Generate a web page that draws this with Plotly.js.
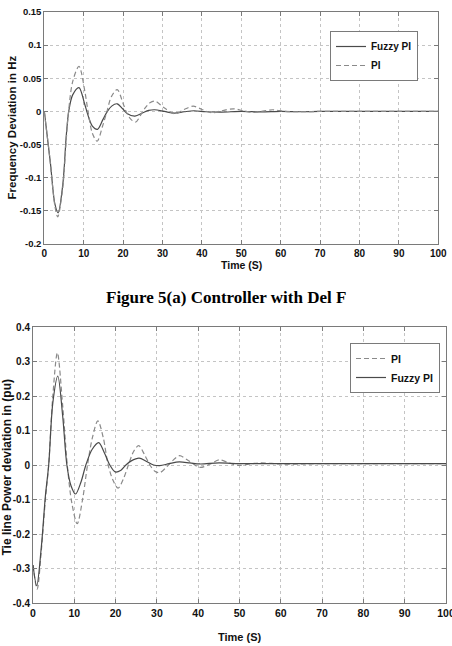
<!DOCTYPE html>
<html>
<head>
<meta charset="utf-8">
<script src="https://cdn.plot.ly/plotly-3.0.1.min.js"></script>
<style>html,body{margin:0;padding:0;background:#fff;}#chart{width:452px;height:646px;}</style>
</head>
<body>
<div id="chart"></div>
<script>
// ---------- Data: Figure 5(a) frequency deviation ----------
const tFreqFuzzy = [0, 1.5, 2.7, 3.5, 4.7, 5.6, 6.2, 7.2, 8.8, 10.2, 11.1, 12.2, 13.5, 14.9, 16.0, 17.1, 18.5, 19.9, 21.0, 23.0, 25.0, 26.5, 28.0, 30.5, 33.0, 35.5, 38.0, 41.0, 45.0, 50.0, 55.0, 60.0, 65.0, 70.0, 80.0, 90.0, 100.0];
const freqFuzzy  = [0, -0.075, -0.140, -0.153, -0.110, -0.035, 0.000, 0.025, 0.036, 0.012, -0.006, -0.022, -0.027, -0.012, 0.000, 0.008, 0.0115, 0.004, -0.003, -0.007, -0.002, 0.0015, 0.0025, 0.000, -0.0025, -0.0005, 0.001, -0.0005, -0.001, 0.000, -0.0008, 0.000, -0.0005, 0.000, 0.000, 0.000, 0.000];

const tFreqPI = [0, 1.5, 2.7, 3.4, 4.6, 5.6, 6.1, 7.2, 8.8, 10.3, 11.1, 12.2, 13.4, 14.8, 15.9, 17.0, 18.5, 20.0, 20.9, 22.0, 23.2, 24.6, 25.7, 26.8, 28.1, 30.5, 33.2, 35.5, 37.8, 40.0, 42.5, 45.0, 48.0, 50.5, 53.0, 55.5, 58.0, 61.0, 65.0, 70.0, 80.0, 90.0, 100.0];
const freqPI  = [0, -0.076, -0.143, -0.159, -0.120, -0.040, -0.004, 0.045, 0.068, 0.030, 0.000, -0.033, -0.045, -0.022, 0.000, 0.022, 0.033, 0.012, -0.002, -0.012, -0.016, -0.004, 0.006, 0.013, 0.0156, 0.005, -0.0035, 0.003, 0.008, 0.003, -0.002, 0.001, 0.004, 0.001, -0.0015, 0.0005, 0.0025, 0.000, -0.0005, 0.000, 0.000, 0.000, 0.000];

// ---------- Data: tie line power deviation ----------
const tTiePI = [0, 1.0, 2.0, 3.0, 3.8, 4.8, 5.9, 7.2, 8.3, 9.4, 10.7, 12.0, 13.2, 14.4, 15.7, 17.0, 18.2, 19.4, 20.6, 21.9, 23.1, 24.4, 25.6, 27.0, 28.3, 29.5, 30.7, 32.0, 33.2, 34.3, 35.5, 38.0, 40.4, 42.8, 45.1, 47.5, 50.0, 52.5, 55.0, 60.0, 65.0, 70.0, 80.0, 90.0, 100.0];
const tiePI  = [-0.29, -0.36, -0.25, -0.10, 0.00, 0.20, 0.325, 0.17, 0.00, -0.11, -0.17, -0.10, 0.00, 0.08, 0.128, 0.08, 0.00, -0.045, -0.067, -0.04, 0.00, 0.04, 0.056, 0.03, 0.00, -0.018, -0.022, -0.01, 0.005, 0.018, 0.027, 0.01, -0.007, 0.002, 0.015, 0.006, -0.001, 0.003, 0.006, 0.003, 0.003, 0.004, 0.004, 0.004, 0.004];

const tTieFuzzy = [0, 0.9, 2.0, 3.0, 3.8, 4.8, 6.0, 7.2, 8.2, 9.2, 10.3, 11.6, 12.8, 14.3, 15.9, 17.3, 18.6, 19.9, 21.3, 22.5, 23.8, 25.7, 27.5, 29.2, 30.7, 33.0, 35.4, 38.0, 40.4, 45.0, 50.0, 55.0, 60.0, 70.0, 80.0, 90.0, 100.0];
const tieFuzzy  = [-0.29, -0.35, -0.24, -0.09, 0.00, 0.18, 0.258, 0.14, 0.00, -0.06, -0.084, -0.05, 0.00, 0.045, 0.065, 0.035, 0.00, -0.02, -0.015, 0.00, 0.012, 0.02, 0.01, 0.00, -0.002, 0.004, 0.009, 0.006, 0.003, 0.006, 0.004, 0.004, 0.004, 0.004, 0.004, 0.004, 0.004];

// ---------- Tick labels ----------
const xTickVals = [0, 10, 20, 30, 40, 50, 60, 70, 80, 90, 100];
const xTickText = ["0", "10", "20", "30", "40", "50", "60", "70", "80", "90", "100"];
const yFreqTickVals = [-0.2, -0.15, -0.1, -0.05, 0, 0.05, 0.1, 0.15];
const yFreqTickText = ["-0.2", "-0.15", "-0.1", "-0.05", "0", "0.05", "0.1", "0.15"];
const yTieTickVals = [-0.4, -0.3, -0.2, -0.1, 0, 0.1, 0.2, 0.3, 0.4];
const yTieTickText = ["-0.4", "-0.3", "-0.2", "-0.1", "0", "0.1", "0.2", "0.3", "0.4"];

const labels = { fuzzy: "Fuzzy PI", pi: "PI" };
const texts = {
  freqY: "Frequency Deviation in Hz",
  tieY: "Tie line Power deviation in (pu)",
  timeX: "Time (S)",
  caption: "Figure 5(a) Controller with Del F"
};

// ---------- Styling ----------
const SANS = "'Liberation Sans', Arial, sans-serif";
const SOLID = "#4a4a4a";
const DASHED = "#8a8a8a";
const f = (size) => ({ family: SANS, size: size, color: "#111", weight: "bold" });

function axisBase(extra) {
  return Object.assign({
    showgrid: true, gridcolor: "#c4c4c4", griddash: "dot", gridwidth: 1,
    showline: true, linecolor: "#7a7a7a", linewidth: 1, mirror: "ticks",
    ticks: "inside", ticklen: 4, tickcolor: "#7a7a7a",
    zeroline: false, tickmode: "array", fixedrange: true,
    ticklabeloverflow: "allow", automargin: false
  }, extra);
}

const traces = [
  { x: tFreqFuzzy, y: freqFuzzy, name: labels.fuzzy, type: "scatter", mode: "lines",
    line: { color: SOLID, width: 1.2, shape: "spline", smoothing: 0.9 }, xaxis: "x", yaxis: "y", legend: "legend" },
  { x: tFreqPI, y: freqPI, name: labels.pi, type: "scatter", mode: "lines",
    line: { color: DASHED, width: 1.2, dash: "5px,3px", shape: "spline", smoothing: 0.9 }, xaxis: "x", yaxis: "y", legend: "legend" },
  { x: tTiePI, y: tiePI, name: labels.pi, type: "scatter", mode: "lines",
    line: { color: DASHED, width: 1.2, dash: "5px,3px", shape: "spline", smoothing: 0.9 }, xaxis: "x2", yaxis: "y2", legend: "legend2" },
  { x: tTieFuzzy, y: tieFuzzy, name: labels.fuzzy, type: "scatter", mode: "lines",
    line: { color: SOLID, width: 1.2, shape: "spline", smoothing: 0.9 }, xaxis: "x2", yaxis: "y2", legend: "legend2" }
];

const W = 452, H = 646;
const px = v => v / W, py = v => 1 - v / H;

const layout = {
  width: W, height: H,
  margin: { l: 0, r: 0, t: 0, b: 0, pad: 0 },
  paper_bgcolor: "#fff", plot_bgcolor: "#fff",
  showlegend: true,
  xaxis: axisBase({ domain: [px(44.3), px(438.3)], range: [0, 100], tickvals: xTickVals, ticktext: xTickText, anchor: "y", tickfont: f(10) }),
  yaxis: axisBase({ domain: [py(244), py(12)], range: [-0.2, 0.15], tickvals: yFreqTickVals, ticktext: yFreqTickText, anchor: "x", tickfont: f(9.5) }),
  xaxis2: axisBase({ domain: [px(33), px(446)], range: [0, 100], tickvals: xTickVals, ticktext: xTickText, anchor: "y2", tickfont: f(10.5) }),
  yaxis2: axisBase({ domain: [py(603), py(327)], range: [-0.4, 0.4], tickvals: yTieTickVals, ticktext: yTieTickText, anchor: "x2", tickfont: f(10) }),
  legend: {
    x: px(418), y: py(31), xanchor: "right", yanchor: "top",
    bgcolor: "#fff", bordercolor: "#7a7a7a", borderwidth: 1,
    font: f(10), itemwidth: 30, tracegroupgap: 0
  },
  legend2: {
    x: px(440), y: py(343), xanchor: "right", yanchor: "top",
    bgcolor: "#fff", bordercolor: "#7a7a7a", borderwidth: 1,
    font: f(10.5), itemwidth: 30, tracegroupgap: 0
  },
  annotations: [
    { text: texts.freqY, xref: "paper", yref: "paper", x: px(11.5), y: py(128), textangle: -90,
      showarrow: false, xanchor: "center", yanchor: "middle", font: f(11.5) },
    { text: texts.timeX, xref: "paper", yref: "paper", x: px(241), y: py(265),
      showarrow: false, xanchor: "center", yanchor: "middle", font: f(10.5) },
    { text: texts.caption, xref: "paper", yref: "paper", x: px(226), y: py(297),
      showarrow: false, xanchor: "center", yanchor: "middle",
      font: { family: "'Liberation Serif', 'Times New Roman', serif", size: 17, color: "#000", weight: "bold" } },
    { text: texts.tieY, xref: "paper", yref: "paper", x: px(6.5), y: py(468), textangle: -90,
      showarrow: false, xanchor: "center", yanchor: "middle", font: f(12) },
    { text: texts.timeX, xref: "paper", yref: "paper", x: px(240), y: py(637),
      showarrow: false, xanchor: "center", yanchor: "middle", font: f(11) }
  ]
};

Plotly.newPlot("chart", traces, layout, { staticPlot: true, displayModeBar: false });
</script>
</body>
</html>
